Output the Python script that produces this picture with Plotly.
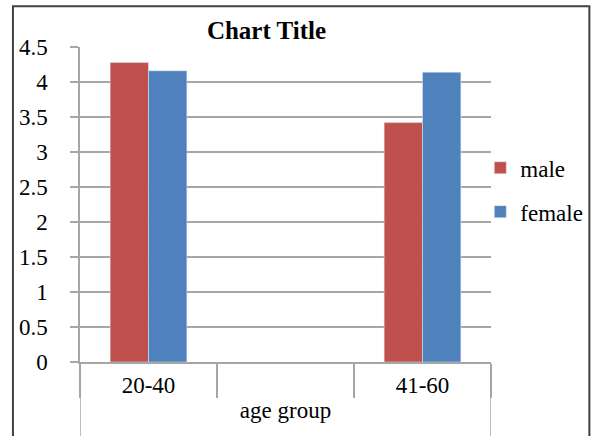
import plotly.graph_objects as go

categories = ["20-40", " ", "41-60"]
male = [4.28, None, 3.42]
female = [4.16, None, 4.14]
y_ticks = [0, 0.5, 1, 1.5, 2, 2.5, 3, 3.5, 4, 4.5]
axis_title = "age group"
title = "Chart Title"

W, H = 592, 436
L, R, T, B = 80, 101.3, 46.7, 74.3
font = "Liberation Serif"
grid = "#a6a6a6"

fig = go.Figure()
fig.add_trace(go.Bar(name="male", x=categories, y=male, marker_color="#C0504D", legendgroup="m"))
fig.add_trace(go.Bar(name="female", x=categories, y=female, marker_color="#4F81BD", legendgroup="f"))

pw = W - L - R
ph = H - T - B
def px2paper_x(px):
    return (px - L) / pw
def px2paper_y(py):
    return (H - B - py) / ph

fig.update_layout(
    width=W, height=H,
    margin=dict(l=L, r=R, t=T, b=B, pad=0, autoexpand=False),
    paper_bgcolor="white", plot_bgcolor="white",
    barmode="group", bargap=0.44, bargroupgap=0,
    font=dict(family=font, size=23, color="black"),
    title=dict(text="<b>" + title + "</b>", x=266.5 / W, xref="container", xanchor="center",
               y=1 - 30 / H, yref="container", yanchor="middle",
               font=dict(family=font, size=25, color="black")),
    legend=dict(x=px2paper_x(480), xanchor="left", y=px2paper_y(189.5), yanchor="middle",
                font=dict(family=font, size=23, color="black"), tracegroupgap=11,
                bgcolor="rgba(0,0,0,0)", traceorder="grouped"),
    showlegend=True,
)
fig.update_yaxes(range=[0, 4.5], tickvals=y_ticks, showgrid=True, gridcolor=grid, gridwidth=1.5,
                 ticks="outside", ticklen=8, tickcolor=grid, tickwidth=1.5,
                 showline=True, linecolor=grid, linewidth=1.5, zeroline=False,
                 ticklabelstandoff=18, tickfont=dict(family=font, size=23, color="black"))
fig.update_xaxes(type="category", categoryorder="array", categoryarray=categories,
                 range=[-0.5, 2.5], showgrid=False, ticks="outside", tickson="boundaries",
                 ticklen=34, tickcolor=grid, tickwidth=1.5,
                 showline=True, linecolor=grid, linewidth=1.5,
                 ticklabelstandoff=2, tickfont=dict(family=font, size=23, color="black"),
                 title=dict(text=axis_title, standoff=2, font=dict(family=font, size=23, color="black")))

# long category-level dividers running down to the chart bottom
for xv in [-0.5, 2.5]:
    fig.add_shape(type="line", xref="x", yref="paper", x0=xv, x1=xv, y0=0, y1=px2paper_y(440),
                  line=dict(color=grid, width=1.5), layer="above")
# outer chart frame
fig.add_shape(type="rect", xref="paper", yref="paper",
              x0=px2paper_x(13), x1=px2paper_x(589), y0=px2paper_y(445), y1=px2paper_y(6),
              line=dict(color="#404040", width=2))

fig.write_html("out.html")
